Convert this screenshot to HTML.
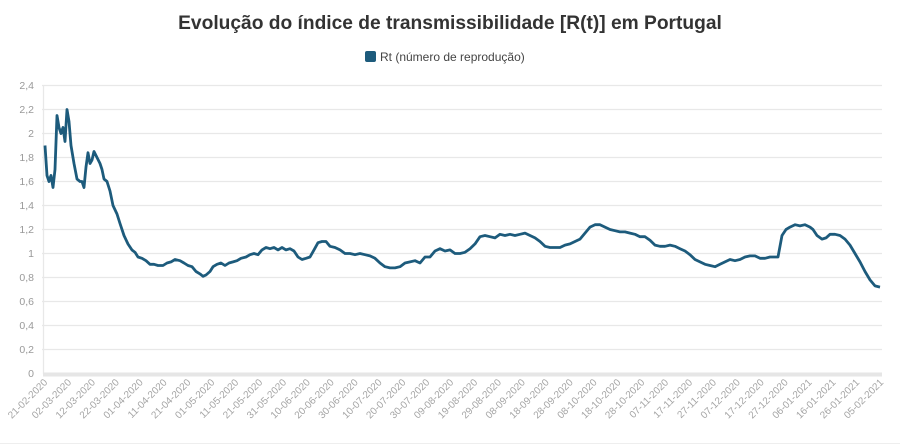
<!DOCTYPE html>
<html><head><meta charset="utf-8"><style>
html,body{margin:0;padding:0;background:#fff;}
svg{display:block;font-family:"Liberation Sans",sans-serif;}
</style></head><body>
<svg width="900" height="444" viewBox="0 0 900 444" xmlns="http://www.w3.org/2000/svg">
<text x="450" y="29" text-anchor="middle" font-size="19.2" font-weight="bold" fill="#333">Evolução do índice de transmissibilidade [R(t)] em Portugal</text>
<rect x="365" y="51" width="11" height="11" rx="2" fill="#1d5b7c"/>
<text x="380" y="61" font-size="12" fill="#444">Rt (número de reprodução)</text>
<g stroke="#e8e8e8" stroke-width="1.3">
<line x1="42" x2="882" y1="85.5" y2="85.5"/><line x1="42" x2="882" y1="109.5" y2="109.5"/>
<line x1="42" x2="882" y1="133.5" y2="133.5"/><line x1="42" x2="882" y1="157.5" y2="157.5"/>
<line x1="42" x2="882" y1="181.5" y2="181.5"/><line x1="42" x2="882" y1="205.5" y2="205.5"/>
<line x1="42" x2="882" y1="229.5" y2="229.5"/><line x1="42" x2="882" y1="253.5" y2="253.5"/>
<line x1="42" x2="882" y1="277.5" y2="277.5"/><line x1="42" x2="882" y1="301.5" y2="301.5"/>
<line x1="42" x2="882" y1="325.5" y2="325.5"/><line x1="42" x2="882" y1="349.5" y2="349.5"/>
<line x1="43.5" x2="43.5" y1="85" y2="374"/>
</g>
<rect x="43" y="372.5" width="839" height="4" fill="#e6e6e6"/>
<g font-size="10.5" fill="#999" text-anchor="end">
<text x="34" y="89">2,4</text><text x="34" y="113">2,2</text><text x="34" y="137">2</text>
<text x="34" y="161">1,8</text><text x="34" y="185">1,6</text><text x="34" y="209">1,4</text>
<text x="34" y="233">1,2</text><text x="34" y="257">1</text><text x="34" y="281">0,8</text>
<text x="34" y="305">0,6</text><text x="34" y="329">0,4</text><text x="34" y="353">0,2</text>
<text x="34" y="377">0</text>
</g>
<polyline fill="none" stroke="#1d5b7c" stroke-width="2.8" stroke-linejoin="round" points="
45,145.5 47,175.5 49,181.5 51,175.5 53,187.5 55,169.5 57,115.5 59,127.5 61,133.5 63,127.5 65,141.5 67,109.5 69,121.5 71,145.5 74,163.5 77,179 80,181.5 82,181.5 84,187.5 86,167 88,152.7 90,163.5 92,160 94,151.5 97,157.5 100,163.5 102,169.5 104,179 107,181.5 110,191 113,205.5 117,214 120,223.5 124,235.5 128,244 132,250 135,252.3 138,257 142,258.3 146,260.7 150,264.3 154,264.3 158,265.5 163,265.5 167,263 171,261.9 175,259.5 180,260.7 184,263 188,265.5 192,266.7 196,271.5 200,273.9 203,276.3 206,275 210,271.5 213,266.7 217,264.3 221,263 225,265.5 229,263 233,261.9 237,260.7 241,258.3 246,257 250,254.7 254,253.5 258,254.7 262,249.9 266,247.5 270,248.7 274,247.5 278,249.9 282,247.5 286,249.9 290,248.7 294,251 298,257 302,259.5 306,258.3 310,257 314,249.9 318,242.7 322,241.5 326,241.5 330,246.3 335,247.5 340,249.9 345,253.5 350,253.5 355,254.7 360,253.5 365,254.7 370,255.9 375,258.3 380,263 385,266.7 390,267.9 395,267.9 400,266.7 405,263 410,261.9 415,260.7 420,263 425,257 430,257 435,251 440,248.7 445,251 450,249.9 455,253.5 460,253.5 465,252.3 470,248.7 475,243.9 480,236.7 485,235.5 490,236.7 495,237.9 500,234.3 505,235.5 510,234.3 515,235.5 520,234.3 525,233.1 530,235.5 535,237.9 540,241.5 545,246.3 550,247.5 555,247.5 560,247.5 565,245.1 570,243.9 575,241.5 580,239.1 585,233.1 590,227.1 595,224.7 600,224.7 605,227.1 610,229.5 615,230.7 620,231.9 625,231.9 630,233.1 635,234.3 640,236.7 645,236.7 650,240.3 655,245.1 660,246.3 665,246.3 670,245.1 675,246.3 680,248.7 685,251 690,254.7 695,259.5 700,261.9 705,264.3 710,265.5 715,266.7 720,264.3 725,261.9 730,259.5 735,260.7 740,259.5 745,257 750,255.9 755,255.9 760,258.3 765,258.3 770,257 775,257 778,257 782,235.5 786,229.5 790,227.1 795,224.7 800,225.9 805,224.7 810,227.1 813,229.5 817,235.5 822,239.1 826,237.9 830,234.3 835,234.3 840,235.5 845,239.1 850,245.1 855,253.5 860,261.9 865,271.5 870,279.9 875,285.9 880,287.1"/>
<g font-size="10" fill="#a5a5a5" text-anchor="end">
<text transform="translate(48,383) rotate(-45)">21-02-2020</text>
<text transform="translate(71.9,383) rotate(-45)">02-03-2020</text>
<text transform="translate(95.8,383) rotate(-45)">12-03-2020</text>
<text transform="translate(119.7,383) rotate(-45)">22-03-2020</text>
<text transform="translate(143.5,383) rotate(-45)">01-04-2020</text>
<text transform="translate(167.4,383) rotate(-45)">11-04-2020</text>
<text transform="translate(191.3,383) rotate(-45)">21-04-2020</text>
<text transform="translate(215.2,383) rotate(-45)">01-05-2020</text>
<text transform="translate(239.1,383) rotate(-45)">11-05-2020</text>
<text transform="translate(263,383) rotate(-45)">21-05-2020</text>
<text transform="translate(286.9,383) rotate(-45)">31-05-2020</text>
<text transform="translate(310.7,383) rotate(-45)">10-06-2020</text>
<text transform="translate(334.6,383) rotate(-45)">20-06-2020</text>
<text transform="translate(358.5,383) rotate(-45)">30-06-2020</text>
<text transform="translate(382.4,383) rotate(-45)">10-07-2020</text>
<text transform="translate(406.3,383) rotate(-45)">20-07-2020</text>
<text transform="translate(430.2,383) rotate(-45)">30-07-2020</text>
<text transform="translate(454.1,383) rotate(-45)">09-08-2020</text>
<text transform="translate(478,383) rotate(-45)">19-08-2020</text>
<text transform="translate(501.8,383) rotate(-45)">29-08-2020</text>
<text transform="translate(525.7,383) rotate(-45)">08-09-2020</text>
<text transform="translate(549.6,383) rotate(-45)">18-09-2020</text>
<text transform="translate(573.5,383) rotate(-45)">28-09-2020</text>
<text transform="translate(597.4,383) rotate(-45)">08-10-2020</text>
<text transform="translate(621.3,383) rotate(-45)">18-10-2020</text>
<text transform="translate(645.2,383) rotate(-45)">28-10-2020</text>
<text transform="translate(669,383) rotate(-45)">07-11-2020</text>
<text transform="translate(692.9,383) rotate(-45)">17-11-2020</text>
<text transform="translate(716.8,383) rotate(-45)">27-11-2020</text>
<text transform="translate(740.7,383) rotate(-45)">07-12-2020</text>
<text transform="translate(764.6,383) rotate(-45)">17-12-2020</text>
<text transform="translate(788.5,383) rotate(-45)">27-12-2020</text>
<text transform="translate(812.4,383) rotate(-45)">06-01-2021</text>
<text transform="translate(836.3,383) rotate(-45)">16-01-2021</text>
<text transform="translate(860.1,383) rotate(-45)">26-01-2021</text>
<text transform="translate(884,383) rotate(-45)">05-02-2021</text>
</g>
<line x1="0" x2="900" y1="443.5" y2="443.5" stroke="#eee"/>
</svg>
</body></html>
